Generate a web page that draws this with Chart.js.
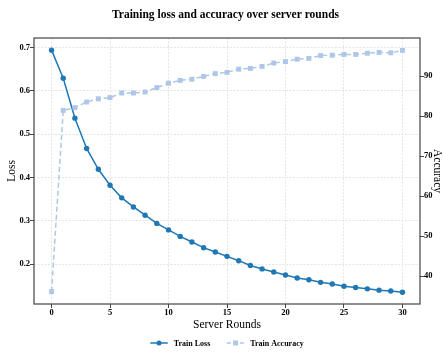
<!DOCTYPE html>
<html>
<head>
<meta charset="utf-8">
<script src="https://cdn.jsdelivr.net/npm/chart.js@4/dist/chart.umd.min.js"></script>
<style>
  body { margin: 0; background: #fff; }
  #wrap { width: 443px; height: 352px; }
</style>
</head>
<body>
<div id="wrap"><canvas id="lossChart"></canvas></div>
<script>
// Data
const rounds = [0, 1, 2, 3, 4, 5, 6, 7, 8, 9, 10, 11, 12, 13, 14, 15,
                16, 17, 18, 19, 20, 21, 22, 23, 24, 25, 26, 27, 28, 29, 30];
const trainLoss = [0.694, 0.629, 0.537, 0.467, 0.419, 0.382, 0.353, 0.332, 0.313, 0.294,
                   0.279, 0.264, 0.251, 0.238, 0.228, 0.218, 0.208, 0.197, 0.189, 0.182,
                   0.175, 0.168, 0.164, 0.158, 0.154, 0.149, 0.146, 0.143, 0.140, 0.138, 0.135];
const trainAcc = [36.1, 81.4, 82.1, 83.5, 84.3, 84.6, 85.75, 85.75, 86.0, 87.1,
                  88.2, 88.9, 89.2, 89.9, 90.6, 90.9, 91.7, 91.9, 92.4, 93.25,
                  93.6, 94.2, 94.4, 95.1, 95.2, 95.4, 95.4, 95.7, 95.9, 95.8, 96.4];
const xTicks = [0, 5, 10, 15, 20, 25, 30];
const lossTicks = [0.2, 0.3, 0.4, 0.5, 0.6, 0.7];
const accTicks = [40, 50, 60, 70, 80, 90];

const FONT = '"Liberation Serif", "Times New Roman", serif';
const LOSS_COLOR = '#1f77b4';
const ACC_COLOR = '#aec7e8';

const tickFont = { family: FONT, size: 8.5, weight: 'bold' };
const titleFont = { family: FONT, size: 11.5 };

// Fixed tick lists like matplotlib
const fixTicks = (list) => (scale) => {
    scale.ticks = list.map(v => ({ value: v }));
};

// Plot frame on all four sides
const framePlugin = {
    id: 'frame',
    afterDatasetsDraw(chart) {
        const { ctx, chartArea: a } = chart;
        ctx.save();
        ctx.strokeStyle = '#444';
        ctx.lineWidth = 1.2;
        ctx.strokeRect(a.left, a.top, a.right - a.left, a.bottom - a.top);
        ctx.restore();
    }
};

// Matplotlib-style legend below the axis label
const legendPlugin = {
    id: 'mplLegend',
    afterDraw(chart) {
        const { ctx, chartArea: a } = chart;
        const items = [
            { text: 'Train Loss', color: LOSS_COLOR, dash: [], marker: 'circle' },
            { text: 'Train Accuracy', color: ACC_COLOR, dash: [4, 2.5], marker: 'rect' }
        ];
        const handle = 17.5, gap = 6, between = 16.5;
        const y = 343;
        ctx.save();
        ctx.font = 'bold 8px ' + FONT;
        let total = 0;
        items.forEach((it, i) => {
            it.w = ctx.measureText(it.text).width;
            total += handle + gap + it.w + (i ? between : 0);
        });
        let x = (a.left + a.right) / 2 - total / 2;
        items.forEach(it => {
            ctx.strokeStyle = it.color;
            ctx.fillStyle = it.color;
            ctx.lineWidth = 1.5;
            ctx.setLineDash(it.dash);
            ctx.beginPath();
            ctx.moveTo(x, y);
            ctx.lineTo(x + handle, y);
            ctx.stroke();
            ctx.setLineDash([]);
            const mx = x + handle / 2;
            if (it.marker === 'circle') {
                ctx.beginPath();
                ctx.arc(mx, y, 2.5, 0, Math.PI * 2);
                ctx.fill();
            } else {
                ctx.fillRect(mx - 2.5, y - 2.5, 5, 5);
            }
            ctx.fillStyle = '#000';
            ctx.textBaseline = 'middle';
            ctx.textAlign = 'left';
            ctx.fillText(it.text, x + handle + gap, y + 0.5);
            x += handle + gap + it.w + between;
        });
        ctx.restore();
    }
};

const gridOpts = {
    color: '#dedede',
    lineWidth: 0.8,
    tickColor: '#444',
    tickLength: 4,
    tickWidth: 1,
    tickBorderDash: []
};

new Chart(document.getElementById('lossChart'), {
    type: 'line',
    data: {
        datasets: [
            {
                label: 'Train Loss',
                data: rounds.map((r, i) => ({ x: r, y: trainLoss[i] })),
                yAxisID: 'y',
                borderColor: LOSS_COLOR,
                backgroundColor: LOSS_COLOR,
                borderWidth: 1.5,
                pointStyle: 'circle',
                pointRadius: 2.7,
                pointBorderWidth: 0,
                fill: false,
                tension: 0,
                order: 1
            },
            {
                label: 'Train Accuracy',
                data: rounds.map((r, i) => ({ x: r, y: trainAcc[i] })),
                yAxisID: 'y1',
                borderColor: ACC_COLOR,
                backgroundColor: ACC_COLOR,
                borderWidth: 1.5,
                borderDash: [5, 3],
                pointStyle: 'rect',
                pointRadius: 3.5,
                pointBorderWidth: 0,
                fill: false,
                tension: 0,
                order: 0
            }
        ]
    },
    options: {
        responsive: true,
        maintainAspectRatio: false,
        animation: false,
        layout: { padding: { left: 8, right: 0, top: 0, bottom: 20 } },
        plugins: {
            legend: { display: false },
            tooltip: { enabled: false },
            title: {
                display: true,
                text: 'Training loss and accuracy over server rounds',
                color: '#000',
                font: { family: FONT, size: 11.5, weight: 'bold', lineHeight: 1.2 },
                padding: { top: 8, bottom: 16.2 }
            }
        },
        scales: {
            x: {
                type: 'linear',
                position: 'bottom',
                min: -1.5,
                max: 31.5,
                afterBuildTicks: fixTicks(xTicks),
                afterFit: (s) => { s.height = 28; },
                ticks: { color: '#000', font: tickFont, padding: 0, maxRotation: 0 },
                grid: gridOpts,
                border: { display: false, dash: [2, 1.5] },
                title: {
                    display: true,
                    text: 'Server Rounds',
                    color: '#000',
                    font: { ...titleFont, lineHeight: 1.2 },
                    padding: { top: 0, bottom: 0 }
                }
            },
            y: {
                type: 'linear',
                position: 'left',
                min: 0.108,
                max: 0.722,
                afterBuildTicks: fixTicks(lossTicks),
                afterFit: (s) => { s.width = 26; },
                ticks: {
                    color: '#000',
                    font: tickFont,
                    padding: 0,
                    callback: (v) => v.toFixed(1)
                },
                grid: gridOpts,
                border: { display: false, dash: [2, 1.5] },
                title: {
                    display: true,
                    text: 'Loss',
                    color: '#000',
                    font: { ...titleFont, lineHeight: 1.2 },
                    padding: { top: -3.2, bottom: 0 }
                }
            },
            y1: {
                type: 'linear',
                position: 'right',
                min: 33,
                max: 99.5,
                afterBuildTicks: fixTicks(accTicks),
                afterFit: (s) => { s.width = 23; },
                ticks: { color: '#000', font: tickFont, padding: 0 },
                grid: { ...gridOpts, drawOnChartArea: false },
                border: { display: false },
                title: {
                    display: true,
                    text: 'Accuracy',
                    color: '#000',
                    font: { ...titleFont, lineHeight: 1.2 },
                    padding: { top: -0.9, bottom: 0 }
                }
            }
        }
    },
    plugins: [framePlugin, legendPlugin]
});
</script>
</body>
</html>
